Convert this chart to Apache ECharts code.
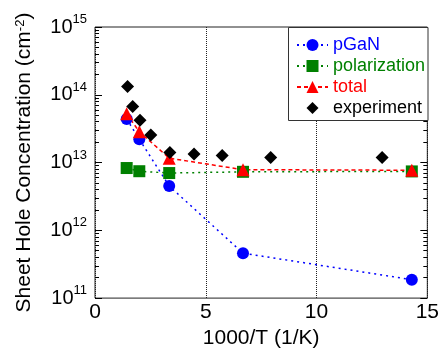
<!DOCTYPE html>
<html><head><meta charset="utf-8">
<script src="https://cdn.jsdelivr.net/npm/echarts@6/dist/echarts.min.js"></script>
<style>html,body{margin:0;padding:0;background:#fff}#c{width:442px;height:354px}</style>
</head><body><div id="c"></div>
<script>
// ---- data ----
const invT = [1.43, 2.0, 3.35, 6.68, 14.3];
const pGaN = [4.4e13, 2.2e13, 4.5e12, 4.6e11, 1.87e11];
const polarization = [8.3e12, 7.45e12, 7.0e12, 7.3e12, 7.4e12];
const total = [5.25e13, 2.85e13, 1.16e13, 7.85e12, 7.7e12];
const expX = [1.47, 1.70, 2.03, 2.52, 3.38, 4.47, 5.74, 7.93, 12.96];
const expY = [1.33e14, 6.7e13, 4.2e13, 2.54e13, 1.41e13, 1.34e13, 1.27e13, 1.19e13, 1.19e13];
const seriesNames = ['pGaN', 'polarization', 'total', 'experiment'];
const xTickStep = 5;
const yDecades = [11, 12, 13, 14, 15];

const FONT = "'Liberation Sans', Arial, sans-serif";
const minorTicks = [];
yDecades.slice(0, -1).forEach(n => { for (let k = 2; k <= 9; k++) minorTicks.push(n + Math.log10(k)); });
const yMin = Math.pow(10, yDecades[0]), yMax = Math.pow(10, yDecades[yDecades.length - 1]);

const pairs = (xs, ys) => xs.map((x, i) => [x, ys[i]]);
const COL = { pGaN: '#0000ff', polarization: '#008000', total: '#ff0000', experiment: '#000000' };

const chart = echarts.init(document.getElementById('c'), null, { renderer: 'canvas' });
chart.setOption({
  animation: false,
  backgroundColor: '#fff',
  textStyle: { fontFamily: FONT },
  grid: { left: 95, right: 14, top: 27, bottom: 52, show: true, borderColor: '#222', borderWidth: 1, containLabel: false },
  xAxis: [{
    type: 'value', min: 0, max: 15, interval: xTickStep,
    axisLine: { show: false }, axisTick: { show: false },
    axisLabel: { fontSize: 21, color: '#000', margin: 4, fontFamily: FONT },
    splitLine: { show: true, lineStyle: { color: '#222', type: [1, 1], width: 1 } },
    name: '1000/T (1/K)', nameLocation: 'middle', nameGap: 28,
    nameTextStyle: { fontSize: 21, color: '#000', fontFamily: FONT }
  }],
  yAxis: [
    {
      type: 'log', logBase: 10, min: yMin, max: yMax, position: 'left',
      axisLine: { show: false },
      axisTick: { show: true, inside: true, length: 7, lineStyle: { color: '#000' } },
      splitLine: { show: false },
      axisLabel: {
        margin: 8,
        formatter: v => '{b|10}{s|' + Math.round(Math.log10(v)) + '}',
        rich: {
          b: { fontSize: 20, lineHeight: 28, color: '#000', fontFamily: FONT },
          s: { fontSize: 13, lineHeight: 13, verticalAlign: 'top', color: '#000', fontFamily: FONT }
        }
      },
      name: 'Sheet Hole Concentration (cm{s|-2})', nameLocation: 'middle', nameGap: 60,
      nameTextStyle: { fontSize: 21, color: '#000', fontFamily: FONT,
        rich: { s: { fontSize: 13, lineHeight: 13, verticalAlign: 'top', color: '#000', fontFamily: FONT } } }
    },
    {
      type: 'log', logBase: 10, min: yMin, max: yMax, position: 'right',
      axisLine: { show: false },
      axisTick: { show: true, inside: true, length: 7, lineStyle: { color: '#000' } },
      axisLabel: { show: false }, splitLine: { show: false }
    },
    {
      type: 'value', min: yDecades[0], max: yDecades[yDecades.length - 1], position: 'left',
      axisLine: { show: false },
      axisTick: { show: true, inside: true, length: 4, customValues: minorTicks, lineStyle: { color: '#000' } },
      axisLabel: { show: false }, splitLine: { show: false }
    },
    {
      type: 'value', min: yDecades[0], max: yDecades[yDecades.length - 1], position: 'right',
      axisLine: { show: false },
      axisTick: { show: true, inside: true, length: 4, customValues: minorTicks, lineStyle: { color: '#000' } },
      axisLabel: { show: false }, splitLine: { show: false }
    }
  ],
  legend: {
    orient: 'vertical', left: 296, top: 36, padding: 0,
    itemWidth: 31, itemHeight: 15, itemGap: 3,
    textStyle: { fontSize: 18, lineHeight: 18, fontFamily: FONT },
    data: seriesNames.map(n => ({ name: n, textStyle: { color: COL[n] } }))
  },
  graphic: [{
    type: 'rect', z: 3, silent: true,
    shape: { x: 288.5, y: 27.5, width: 139.5, height: 93 },
    style: { fill: '#fff', stroke: '#333', lineWidth: 1 }
  }],
  series: [
    {
      name: seriesNames[0], type: 'line', data: pairs(invT, pGaN),
      symbol: 'circle', symbolSize: 12, showSymbol: true,
      itemStyle: { color: COL.pGaN },
      lineStyle: { color: COL.pGaN, width: 1.5, type: [2, 4] }
    },
    {
      name: seriesNames[1], type: 'line', data: pairs(invT, polarization),
      symbol: 'rect', symbolSize: 12,
      itemStyle: { color: COL.polarization },
      lineStyle: { color: COL.polarization, width: 1.5, type: [2, 4] }
    },
    {
      name: seriesNames[2], type: 'line', data: pairs(invT, total),
      symbol: 'triangle', symbolSize: 13,
      itemStyle: { color: COL.total },
      lineStyle: { color: COL.total, width: 1.5, type: [4, 3] }
    },
    {
      name: seriesNames[3], type: 'line', data: pairs(expX, expY),
      symbol: 'diamond', symbolSize: 13,
      itemStyle: { color: COL.experiment },
      lineStyle: { width: 0, opacity: 0 }
    }
  ]
});
</script></body></html>
